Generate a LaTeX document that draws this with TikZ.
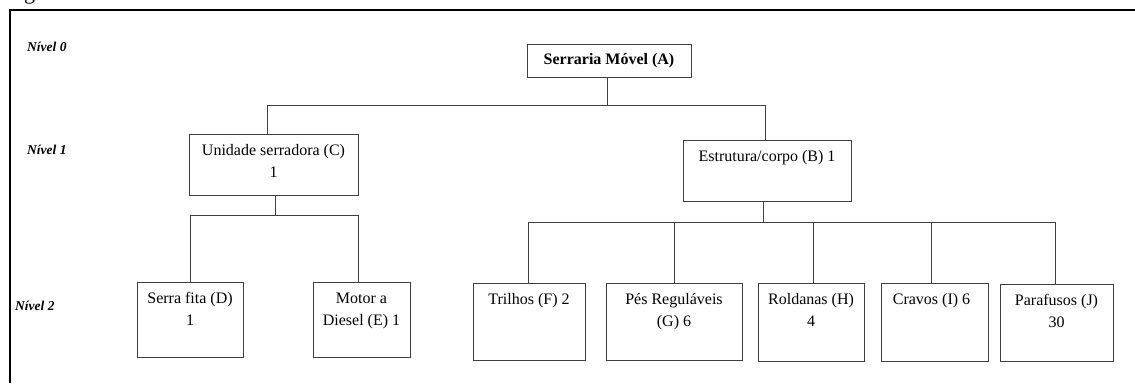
\documentclass[tikz,border=0pt]{standalone}
\usepackage{fontspec}
\setmainfont{Liberation Serif}
\newcommand{\twol}[2]{\begin{tabular}[t]{@{}c@{}}#1\\#2\end{tabular}}
\begin{document}
\begin{tikzpicture}[x=1pt,y=-1pt,
 box/.style={draw=black!75, line width=0.9pt, rectangle, inner sep=0pt},
 txt/.style={anchor=base, inner sep=0pt, font=\fontsize{16}{22}\selectfont},
 lvl/.style={anchor=west, inner sep=0pt, font=\fontsize{13.5}{16}\selectfont\bfseries\itshape},
 conn/.style={draw=black!75, line width=0.9pt}]
\useasboundingbox (0,0) rectangle (1135,383);
% cut caption fragment
\begin{scope}
\clip (0,0) rectangle (80,5);
\node[anchor=base west, inner sep=0pt, font=\fontsize{22}{22}\selectfont] (cap) at (24,-1) {g};
\end{scope}
% frame
\draw[line width=2pt] (10,383) -- (10,10) -- (1135,10);
% level labels
\node[lvl] (n0) at (27,47) {Nível 0};
\node[lvl] (n1) at (27,150) {Nível 1};
\node[lvl] (n2) at (15,306) {Nível 2};
% boxes
\node[box, minimum width=164, minimum height=33, font=\fontsize{16}{22}\selectfont\bfseries] (A) at (609,60.5) {Serraria Móvel (A)};
\node[box, minimum width=169, minimum height=61] (C) at (273.5,164.5) {};
\node[box, minimum width=168, minimum height=61] (B) at (767,170.5) {};
\node[box, minimum width=106, minimum height=75] (D) at (190,319.5) {};
\node[box, minimum width=97, minimum height=75] (E) at (361.5,319.5) {};
\node[box, minimum width=112, minimum height=77] (F) at (529,321.5) {};
\node[box, minimum width=136, minimum height=77] (G) at (674,321.5) {};
\node[box, minimum width=106, minimum height=78] (H) at (811,322) {};
\node[box, minimum width=107, minimum height=78] (I) at (934.5,322) {};
\node[box, minimum width=113, minimum height=77] (J) at (1056.5,322.5) {};
% texts
\node[txt] (tC) at ([yshift=-21.5]C.north) {\twol{Unidade serradora (C)}{1}};
\node[txt] (tB) at ([yshift=-21.5]B.north) {Estrutura/corpo (B) 1};
\node[txt] (tD) at ([yshift=-21.5]D.north) {\twol{Serra fita (D)}{1}};
\node[txt] (tE) at ([yshift=-21.5]E.north) {\twol{Motor a}{Diesel (E) 1}};
\node[txt] (tF) at ([yshift=-21.5]F.north) {Trilhos (F) 2};
\node[txt] (tG) at ([yshift=-21.5]G.north) {\twol{Pés Reguláveis}{(G) 6}};
\node[txt] (tH) at ([yshift=-21.5]H.north) {\twol{Roldanas (H)}{4}};
\node[txt] (tI) at ([xshift=-3,yshift=-21.5]I.north) {Cravos (I) 6};
\node[txt] (tJ) at ([yshift=-21.5]J.north) {\twol{Parafusos (J)}{30}};
% bus levels
\coordinate (y1) at (0,105);
\coordinate (y2) at (0,215);
\coordinate (y3) at (0,222);
% connectors
\draw[conn] ([xshift=-2]A.south) -- ([xshift=-2]A.south |- y1);
\draw[conn] ([xshift=-6.5]C.north) |- ([xshift=-2]B.north |- y1) -- ([xshift=-2]B.north);
\draw[conn] ([xshift=1.5]C.south) -- ([xshift=1.5]C.south |- y2);
\draw[conn] (D.north) |- ([xshift=-3.5]E.north |- y2) -- ([xshift=-3.5]E.north);
\draw[conn] ([xshift=-4]B.south) -- ([xshift=-4]B.south |- y3);
\draw[conn] ([xshift=-1]F.north) |- ([xshift=-1.5]J.north |- y3) -- ([xshift=-1.5]J.north);
\draw[conn] (G.north) -- (G.north |- y3);
\draw[conn] ([xshift=2]H.north) -- ([xshift=2]H.north |- y3);
\draw[conn] ([xshift=-3]I.north) -- ([xshift=-3]I.north |- y3);
\end{tikzpicture}
\end{document}
